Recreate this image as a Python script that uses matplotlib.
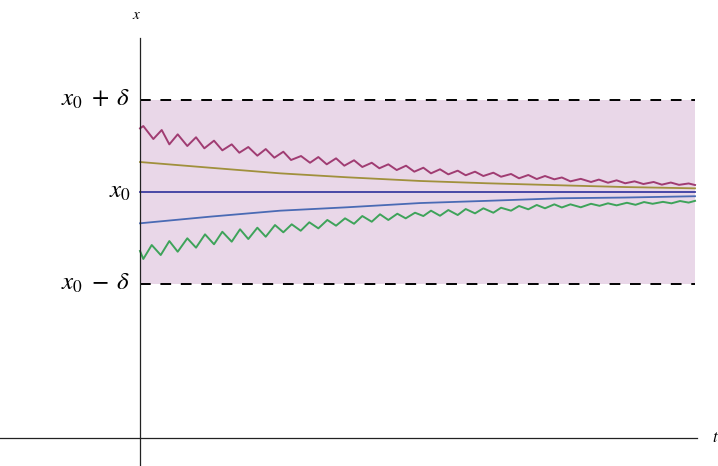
import matplotlib
matplotlib.use("Agg")
import matplotlib.pyplot as plt

plt.rcParams["mathtext.fontset"] = "stix"
plt.rcParams["font.family"] = "STIXGeneral"

# t runs 0..10 across the band, x is measured from x0 in units of delta
# magenta trajectory (oscillating, starts above)
t_mag = [0.000, 0.059, 0.240, 0.391, 0.528, 0.679, 0.852, 1.009, 1.159, 1.333,
         1.483, 1.652, 1.789, 1.951, 2.114, 2.265, 2.420, 2.582, 2.721, 2.901,
         3.063, 3.213, 3.364, 3.532, 3.681, 3.856, 4.005, 4.175, 4.312, 4.474,
         4.625, 4.793, 4.942, 5.105, 5.243, 5.405, 5.555, 5.724, 5.868, 6.036,
         6.186, 6.366, 6.505, 6.685, 6.829, 6.996, 7.148, 7.297, 7.465, 7.600,
         7.755, 7.941, 8.126, 8.267, 8.432, 8.587, 8.742, 8.910, 9.070, 9.254,
         9.402, 9.564, 9.712, 9.885, 10.000]
x_mag = [0.692, 0.717, 0.576, 0.674, 0.518, 0.627, 0.500, 0.595, 0.475, 0.558,
         0.453, 0.518, 0.427, 0.489, 0.395, 0.467, 0.373, 0.438, 0.348, 0.391,
         0.318, 0.380, 0.301, 0.366, 0.286, 0.345, 0.272, 0.318, 0.258, 0.301,
         0.239, 0.286, 0.221, 0.264, 0.203, 0.247, 0.192, 0.232, 0.182, 0.221,
         0.174, 0.210, 0.166, 0.196, 0.149, 0.185, 0.141, 0.174, 0.138, 0.158,
         0.116, 0.143, 0.109, 0.135, 0.101, 0.127, 0.095, 0.116, 0.087, 0.109,
         0.080, 0.103, 0.078, 0.093, 0.076]

# green trajectory (oscillating, starts below)
t_grn = [0.000, 0.059, 0.211, 0.373, 0.528, 0.679, 0.852, 1.009, 1.171, 1.333,
         1.483, 1.652, 1.802, 1.951, 2.114, 2.265, 2.432, 2.582, 2.733, 2.895,
         3.050, 3.213, 3.375, 3.532, 3.694, 3.856, 4.005, 4.175, 4.324, 4.474,
         4.636, 4.787, 4.955, 5.105, 5.243, 5.405, 5.555, 5.724, 5.868, 6.036,
         6.186, 6.366, 6.505, 6.685, 6.829, 6.996, 7.148, 7.297, 7.465, 7.600,
         7.755, 7.941, 8.126, 8.279, 8.432, 8.587, 8.773, 8.928, 9.081, 9.236,
         9.422, 9.575, 9.730, 9.885, 10.000]
x_grn = [-0.641, -0.728, -0.576, -0.685, -0.533, -0.649, -0.503, -0.605, -0.460, -0.568,
         -0.432, -0.540, -0.405, -0.511, -0.388, -0.486, -0.359, -0.438, -0.351, -0.421,
         -0.329, -0.395, -0.304, -0.366, -0.286, -0.345, -0.261, -0.323, -0.242, -0.304,
         -0.236, -0.286, -0.225, -0.261, -0.203, -0.258, -0.196, -0.250, -0.185, -0.232,
         -0.177, -0.225, -0.171, -0.203, -0.152, -0.188, -0.141, -0.177, -0.134, -0.168,
         -0.134, -0.166, -0.128, -0.150, -0.123, -0.145, -0.117, -0.139, -0.109, -0.128,
         -0.107, -0.123, -0.098, -0.115, -0.096]

# smooth trajectories
t_smooth = [0.0, 1.261, 2.523, 3.730, 5.045, 6.252, 7.568, 8.739, 10.0]
x_olive = [0.326, 0.264, 0.203, 0.160, 0.120, 0.095, 0.073, 0.054, 0.040]
x_blue = [-0.340, -0.268, -0.203, -0.166, -0.120, -0.096, -0.068, -0.060, -0.046]
t_eq = [0.0, 10.0]
x_eq = [0.0, 0.0]

band_lo, band_hi = -1.0, 1.0
tick_pos = [1.0, 0.0, -1.0]
tick_lab = [r"$x_0\;+\;\delta$", r"$x_0$", r"$x_0\;-\;\delta$"]

fig = plt.figure(figsize=(7.18, 4.66), dpi=100)
ax = fig.add_axes([0, 0, 1, 1])
ax.set_xlim(-2.523, 10.414)
ax.set_ylim(-2.978, 2.087)
ax.axis("off")

# stability band
ax.fill_between(t_eq, [band_lo] * 2, [band_hi] * 2, color="#e9d7e8", lw=0, zorder=1)
for yb in (band_lo, band_hi):
    ax.plot(t_eq, [yb, yb], color="black", lw=1.4, ls=(0, (5.5, 5)), zorder=2)

ax.plot(t_eq, x_eq, color="#3c3ca0", lw=1.3, zorder=3)
ax.plot(t_smooth, x_olive, color="#a0903c", lw=1.3, zorder=3)
ax.plot(t_smooth, x_blue, color="#4a6ab4", lw=1.3, zorder=3)
ax.plot(t_mag, x_mag, color="#a03c72", lw=1.4, solid_joinstyle="round", zorder=3)
ax.plot(t_grn, x_grn, color="#3ea35a", lw=1.4, solid_joinstyle="round", zorder=3)

# axes through the "origin"
x_axis_y = -2.674
ax.plot([-2.523, 10.04], [x_axis_y, x_axis_y], color="#222222", lw=0.9, zorder=4)
ax.plot([0, 0], [-2.978, 1.674], color="#222222", lw=0.9, zorder=4)
ax.text(-0.07, 1.92, "x", fontsize=11, style="italic", ha="center", va="center")
ax.text(10.36, x_axis_y, "t", fontsize=12, style="italic", ha="center", va="center")

for yp, lab in zip(tick_pos, tick_lab):
    ax.text(-0.17, yp, lab, fontsize=18, ha="right", va="center")

fig.savefig("out.png", dpi=100)
